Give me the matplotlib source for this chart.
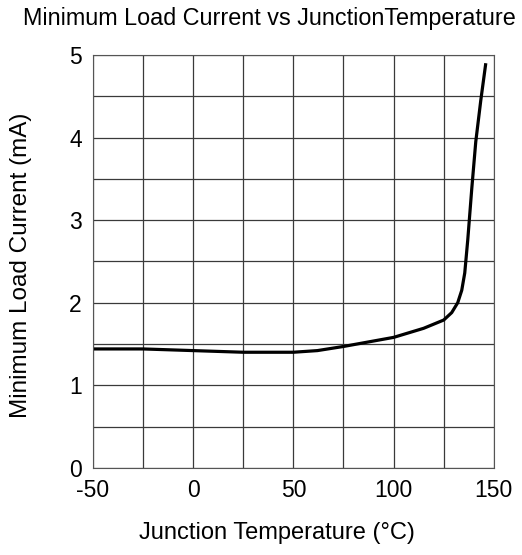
import matplotlib
matplotlib.use("Agg")
import matplotlib.pyplot as plt
import numpy as np

temp = [-50, -25, 0, 25, 50, 62, 75, 100, 115, 125, 129, 132, 134, 135.5, 137, 139, 141, 143.5, 146]
current = [1.44, 1.44, 1.42, 1.40, 1.40, 1.42, 1.47, 1.58, 1.69, 1.79, 1.88, 2.0, 2.15, 2.36, 2.76, 3.38, 3.95, 4.45, 4.9]

xticks = [-50, 0, 50, 100, 150]
yticks = [0, 1, 2, 3, 4, 5]

plt.rcParams['font.family'] = ['Liberation Sans', 'DejaVu Sans']
plt.rcParams['axes.unicode_minus'] = False
fig = plt.figure(figsize=(5.22, 5.55), dpi=100)
ax = fig.add_axes([0.178, 0.157, 0.768, 0.744])
ax.plot(temp, current, color='black', lw=2.3, solid_capstyle='butt', solid_joinstyle='round')
ax.set_xlim(-50, 150)
ax.set_ylim(0, 5)
ax.set_xticks(xticks)
ax.set_yticks(yticks)
ax.set_xticks(np.arange(-50, 151, 25), minor=True)
ax.set_yticks(np.arange(0, 5.01, 0.5), minor=True)
ax.grid(which='both', color='#3a3a3a', lw=0.9)
ax.tick_params(which='both', length=0, labelsize=16.5)
ax.tick_params(axis='x', pad=8)
ax.tick_params(axis='y', pad=8)
for s in ax.spines.values():
    s.set_color('#555555')
ax.set_xlabel('Junction Temperature (°C)', fontsize=17, va='center')
ax.xaxis.set_label_coords(0.459, -0.157)
ax.set_ylabel('Minimum Load Current (mA)', fontsize=17.5, va='center')
ax.yaxis.set_label_coords(-0.18, 0.49)
fig.text(0.517, 0.966, 'Minimum Load Current vs JunctionTemperature', ha='center', va='center', fontsize=16.8)
fig.savefig('out.png', dpi=100)
